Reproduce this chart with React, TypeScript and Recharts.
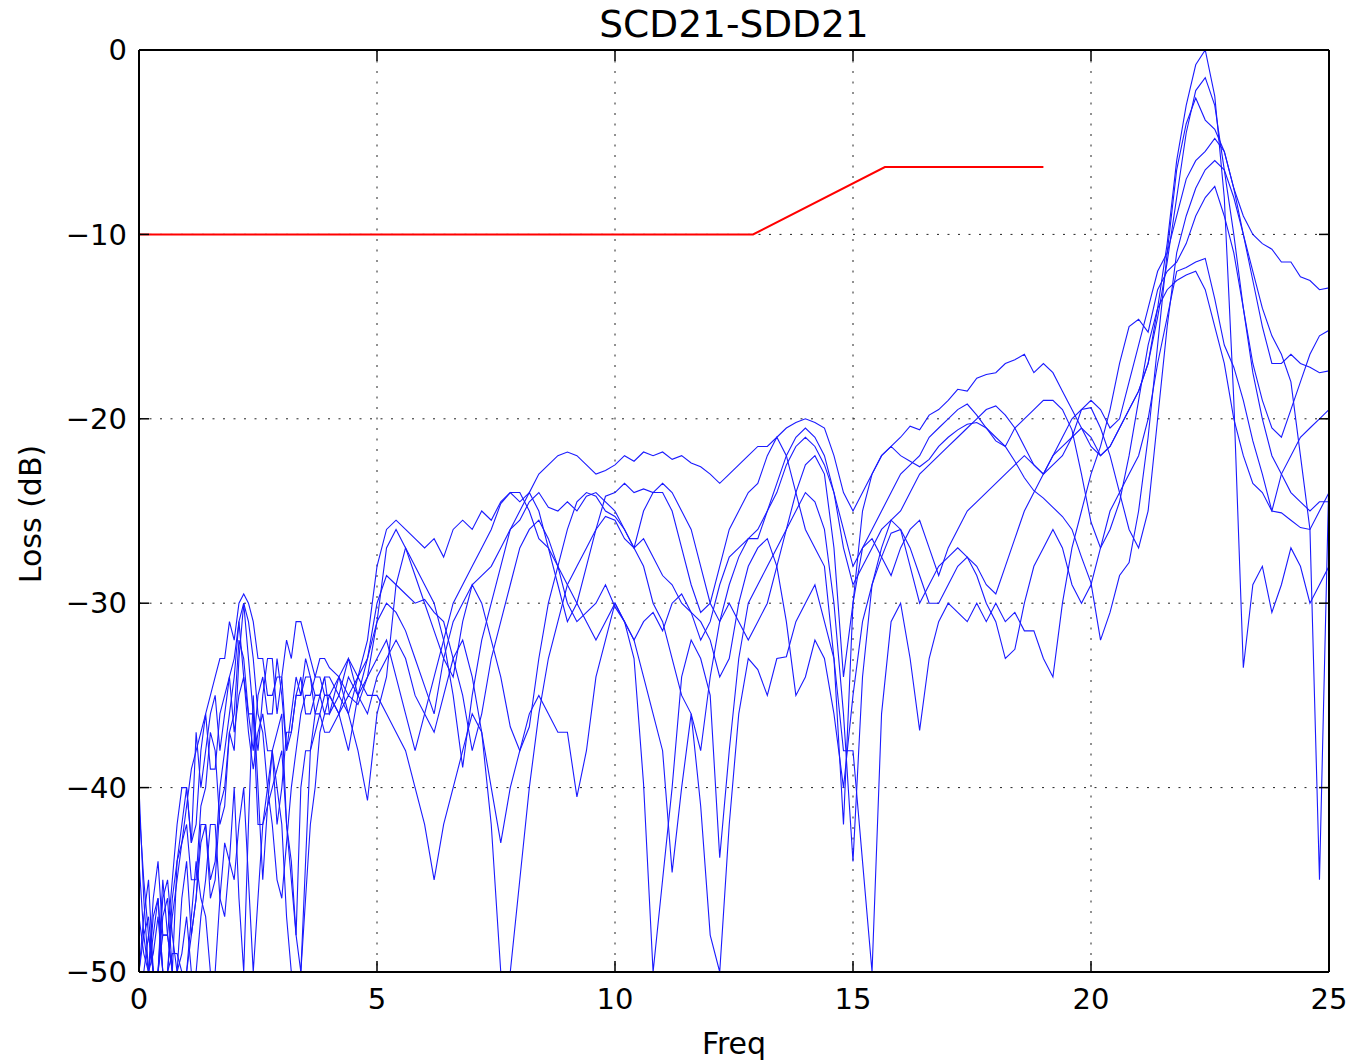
import React from 'react';
import { LineChart, Line, XAxis, YAxis, CartesianGrid, ReferenceLine } from 'recharts';

// frequency grid (GHz): 0..3.9 step 0.1, then 4..25 step 0.2
const FREQ: number[] = [
  ...Array.from({ length: 40 }, (_, i) => i / 10),
  ...Array.from({ length: 106 }, (_, i) => Math.round(40 + i * 2) / 10),
];

const X_TICKS = [0, 5, 10, 15, 20, 25];
const Y_TICKS = [-50, -40, -30, -20, -10, 0];

const LIMIT_F = [0, 12.9, 15.67, 19.0];
const LIMIT_DB = [-10, -10, -6.35, -6.35];

const T1 = [
  -41, -45, -48, -50, -50, -47, -46, -50, -44, -42, -40, -43, -37, -40, -38, -36, -35, -38, -36, -34,
  -33, -31, -34, -36, -36, -38, -35, -33, -33, -36, -34, -38, -36, -34, -35, -33, -34, -36, -35, -34,
  -34, -35, -33, -34, -32, -28, -26, -25.5, -26, -26.5, -27, -26.5, -27.5, -26, -25.5, -26, -25, -25.5, -24.5, -24,
  -24.5, -24, -23, -22.5, -22, -21.8, -22, -22.5, -23, -22.8, -22.5, -22, -22.3, -21.8, -22, -21.8, -22.2, -22, -22.4, -22.6,
  -23, -23.5, -23, -22.5, -22, -21.5, -21.5, -21, -20.5, -20.2, -20, -20.2, -20.5, -22, -24, -25, -24, -23, -22, -21.5,
  -21, -20.4, -20.6, -19.8, -19.5, -19, -18.4, -18.5, -17.8, -17.6, -17.5, -17, -16.8, -16.5, -17.5, -17, -17.5, -18.5, -19.5, -20.5,
  -21.5, -22, -21.5, -20.5, -19.5, -18.5, -17, -14, -10.5, -6, -3, -0.8, 0, -2.5, -8, -19, -33.5, -29, -28, -30.5,
  -29, -27, -28, -30, -29, -28,
];

const T2 = [
  -50, -48, -47, -50, -50, -45, -48, -50, -50, -46, -44, -48, -46, -42, -42, -46, -45, -41, -40, -37,
  -38, -33, -30, -33, -36, -42, -42, -40, -38, -37, -36, -42, -44, -48, -40, -38, -38, -36, -36, -35,
  -35, -36, -34, -35, -33, -30, -28.5, -29, -29.5, -30, -29.8, -30.5, -31, -33, -35, -38, -36, -33, -31, -29,
  -27, -26, -25.5, -26.5, -28, -30, -31, -30.5, -30, -29, -30.2, -31, -32, -31, -30.5, -31.5, -30, -29.5, -30.5, -32,
  -31, -29, -27.5, -27, -26.5, -26, -25, -24, -22.5, -21.5, -21, -21.5, -22.5, -24, -26, -28, -27, -26.5, -27.5, -28.5,
  -27, -26, -25.5, -27, -28.5, -27, -26, -25, -24.5, -24, -23.5, -23, -22.5, -22, -22.5, -23, -22, -21.5, -21, -20.5,
  -21, -22, -21.5, -20.5, -19.5, -18.5, -17, -14.5, -11.5, -8, -4.5, -2.2, -1.5, -3, -6.5, -10, -14, -17, -19, -20.5,
  -21, -19.5, -18, -16.5, -15.5, -15.2,
];

const T3 = [
  -50, -50, -50, -47, -46, -50, -50, -46, -44, -43, -42, -45, -45, -41, -40, -37, -38, -42, -41, -37,
  -36, -32, -33, -36, -38, -35, -34, -36, -36, -33, -35, -38, -37, -35, -34, -36, -36, -35, -35, -34,
  -36, -35, -36, -34, -33, -31, -30, -30.5, -31.5, -33, -34.5, -36, -33, -31, -30, -29, -28.5, -28, -27, -26,
  -25.5, -24.5, -24, -24.8, -25, -24.5, -25, -24.2, -24, -24.5, -25, -26, -27, -25, -24, -24, -25, -27, -29, -30.5,
  -30, -28, -26, -25, -24, -23.5, -22, -21, -22, -24, -26, -27, -28, -33, -42, -30, -25, -23, -22, -21.5,
  -22, -22.3, -22.6, -22.2, -21.5, -21, -20.6, -20.3, -20.2, -20.5, -21.2, -21.5, -22.3, -23.2, -23.9, -24.3, -24.8, -25.3, -26, -27.5,
  -28.9, -32, -30.5, -28.5, -27.8, -25, -21, -16, -11, -6.5, -4, -2.6, -3.8, -4.3, -5.5, -7.5, -9, -10, -10.5, -10.8,
  -11.5, -11.5, -12.3, -12.5, -13, -12.9,
];

const T4 = [
  -47, -49, -50, -46, -44, -48, -48, -45, -42, -40, -40, -43, -42, -38, -36, -39, -39, -36, -35, -34,
  -37, -35, -34, -37, -39, -37, -36, -38, -38, -42, -40, -37, -37, -35, -35, -34, -34, -35, -35, -36,
  -35, -36, -35, -35.5, -34, -31, -27, -26, -27, -28.5, -30, -31.5, -33, -34, -31, -29, -30, -32, -34, -36.7,
  -38, -36.7, -33, -30, -28, -26, -24.5, -24, -24.2, -25, -25.3, -26, -27, -28, -30, -31, -33, -35, -36, -38,
  -34, -31, -29, -27.5, -26.5, -26.5, -25, -23.5, -22, -21, -20.5, -21, -22, -24, -27, -29, -28, -27, -26, -25.5,
  -25, -24, -23, -22.5, -22, -21.5, -21, -20.5, -20, -19.5, -19.3, -19.8, -20.5, -21.5, -22.5, -23, -22.5, -22, -21, -19.5,
  -19, -19.5, -20.5, -20, -18, -16, -14, -12, -11, -9, -7, -6, -5.5, -4.8, -5.5, -7.5, -10, -12.5, -15, -17,
  -17, -16.5, -17, -17.2, -17.5, -17.4,
];

const T5 = [
  -50, -47, -45, -50, -50, -48, -48, -50, -50, -49, -47, -50, -50, -47, -45, -42, -42, -46, -47, -44,
  -40, -46, -50, -42, -35, -40, -45, -41, -38, -40, -42, -47, -50, -50, -50, -44, -38, -37, -36, -37,
  -37, -36, -38, -35, -34, -33, -32, -34, -36, -38, -36, -34, -32, -30, -29, -28, -27, -26, -24.6, -24,
  -24, -25, -26.5, -27, -28, -29, -30, -31, -32, -31, -30, -31, -33, -39.8, -50, -45, -40, -34, -32, -33,
  -35, -43.8, -38, -33, -30, -29, -28, -27, -26, -25, -24, -24.5, -26, -30, -36, -44, -34, -29, -27, -25.5,
  -26, -28, -30, -29, -28, -27.5, -27, -27.5, -28, -29, -29.5, -28, -26.5, -25, -24, -23, -22, -21, -20, -19.5,
  -19.4, -20.5, -22, -24, -26, -27, -25, -20, -15, -11, -9, -7.5, -6.5, -6, -6.5, -8, -10, -12, -14, -15.5,
  -16.5, -18, -22, -26, -45, -23,
];

const T6 = [
  -40, -46, -50, -48, -46, -50, -50, -49, -49, -50, -50, -47, -44, -46, -47, -50, -50, -46, -43, -44,
  -45, -42, -40, -45, -50, -46, -42, -41, -40, -39, -38, -42, -45, -48, -50, -46, -42, -40, -37, -36,
  -36, -34, -35, -34, -35, -35, -36, -37, -38, -40, -42, -45, -42, -40, -38, -36, -37, -40, -43, -40,
  -38, -36, -35, -36, -37, -37, -40.5, -38, -34, -32, -30, -31, -32, -34, -36, -38, -44.6, -40, -36, -41,
  -48, -50, -42, -36, -33, -33.6, -35, -33, -32.9, -31, -30, -29, -31, -33, -38, -38, -44, -50, -36, -31,
  -30, -33, -36.9, -33, -31, -30, -30.5, -31, -30, -31, -30, -31, -30.5, -31.5, -31.5, -33, -34, -30, -27, -25,
  -23, -21.5, -19.5, -17, -15, -14.6, -15.3, -13, -12, -11.5, -10.5, -9, -8, -7.4, -9, -11, -14, -17.5, -20, -22,
  -23, -24, -24.5, -25, -24.5, -24.5,
];

const T7 = [
  -50, -50, -48, -50, -50, -46, -45, -48, -50, -50, -50, -48, -46, -43, -42, -45, -44, -40, -38, -36,
  -34, -31, -30, -31, -33, -36, -37, -40, -42, -45, -46, -43, -40, -38, -36, -35, -35, -34, -33, -33,
  -33.5, -34, -33, -35, -36, -34, -33, -32, -33, -35, -36, -37, -35, -33, -32, -34, -37, -42, -50, -50,
  -45, -40, -36, -33, -31, -29, -28, -27, -26, -25.3, -25.5, -26.5, -27, -26.5, -27.5, -28.5, -29, -30, -30.5, -31,
  -32, -34, -33, -30, -28, -27, -26.5, -28, -31, -35, -34, -32, -33, -36, -40, -35, -31, -29, -27.5, -26.2,
  -26, -27, -28.5, -30, -30, -29, -28, -27.5, -28.5, -30, -31, -33, -32.5, -30, -28, -27, -26, -27, -29, -30,
  -29, -27, -25, -24, -23, -22, -20, -17, -14.5, -12, -11.8, -11.5, -11.3, -13.5, -16, -17.2, -19, -21.2, -23, -25,
  -25.1, -25.5, -25.9, -26, -25, -24,
];

const T8 = [
  -44, -48, -50, -49, -47, -50, -50, -47, -45, -43, -41, -39, -38, -37, -36, -35, -34, -33, -33, -31,
  -32, -30, -29.5, -30, -31, -33, -33, -35, -35, -34, -34, -32, -33, -31, -31, -32, -33, -34, -34, -35,
  -35, -34, -36, -38, -40.7, -36, -34, -29, -27, -28, -29, -30, -32, -35, -38.9, -35, -32, -30, -28, -26,
  -25, -24, -25, -27, -29, -31, -30, -28, -26, -24.2, -24, -23.5, -24, -23.8, -24, -23.5, -24, -25, -26, -28,
  -30, -31, -30, -31, -32, -31, -30, -28, -26, -24, -22.5, -22, -23, -27, -34, -30, -27, -26, -25, -24,
  -23, -22.5, -22, -21, -20.5, -20, -19.5, -19.2, -19.8, -20.5, -21, -21.5, -20.5, -20, -19.5, -19, -19, -19.5, -20.6, -23,
  -25.6, -27, -26, -24.5, -22, -19, -16, -14, -13, -12.5, -12.2, -12, -13, -15, -17, -20, -22, -23.5, -24, -25,
  -23, -22, -21, -20.5, -20, -19.5,
];

const TRACES = [T1, T2, T3, T4, T5, T6, T7, T8];

const traceData = TRACES.map((t) => FREQ.map((f, i) => ({ f, v: t[i] })));
const limitData = LIMIT_F.map((f, i) => ({ f, v: LIMIT_DB[i] }));

const FONT = '"DejaVu Sans", sans-serif';
const fmt = (v: number) => (v < 0 ? '\u2212' + Math.abs(v) : String(v));
const tickStyle = { fontSize: 29, fill: '#000', fontFamily: FONT };
const emptyTick = () => <text />;
const AXIS_LINE = { stroke: '#000', strokeWidth: 2 };
const TICK_LINE = { stroke: '#000', strokeWidth: 1.5 };

export default function App() {
  return (
    <div style={{ position: 'absolute', left: 0, top: 0, width: 1353, height: 1064, background: '#fff' }}>
      <LineChart width={1353} height={1064} margin={{ top: 49, right: 23, bottom: 0, left: 0 }}>
        <CartesianGrid xAxisId="b" yAxisId="l" stroke="#222" strokeDasharray="2 8.5" strokeWidth={1} />
        <XAxis
          xAxisId="b"
          type="number"
          dataKey="f"
          domain={[0, 25]}
          ticks={X_TICKS}
          allowDataOverflow
          height={92}
          tickSize={-11}
          tickMargin={27}
          tick={tickStyle}
          tickFormatter={fmt}
          axisLine={AXIS_LINE}
          tickLine={TICK_LINE}
        />
        <XAxis
          xAxisId="t"
          orientation="top"
          type="number"
          dataKey="f"
          domain={[0, 25]}
          ticks={X_TICKS}
          allowDataOverflow
          height={1}
          tickSize={-11}
          tick={emptyTick}
          axisLine={AXIS_LINE}
          tickLine={TICK_LINE}
        />
        <YAxis
          yAxisId="l"
          type="number"
          domain={[-50, 0]}
          ticks={Y_TICKS}
          allowDataOverflow
          width={139}
          tickSize={-10}
          tickMargin={22}
          tick={tickStyle}
          tickFormatter={fmt}
          axisLine={AXIS_LINE}
          tickLine={TICK_LINE}
        />
        <YAxis
          yAxisId="r"
          orientation="right"
          type="number"
          domain={[-50, 0]}
          ticks={Y_TICKS}
          allowDataOverflow
          width={1}
          tickSize={-10}
          tick={emptyTick}
          axisLine={AXIS_LINE}
          tickLine={TICK_LINE}
        />
        {traceData.map((d, k) => (
          <Line
            key={'t' + k}
            xAxisId="b"
            yAxisId="l"
            data={d}
            dataKey="v"
            type="linear"
            stroke="#1a1aff"
            strokeWidth={1.1}
            dot={false}
            activeDot={false}
            isAnimationActive={false}
          />
        ))}
        <Line
          xAxisId="b"
          yAxisId="l"
          data={limitData}
          dataKey="v"
          type="linear"
          stroke="#ff0000"
          strokeWidth={2}
          dot={false}
          activeDot={false}
          isAnimationActive={false}
        />
        <Line
          xAxisId="t"
          yAxisId="r"
          data={limitData}
          dataKey="v"
          type="linear"
          stroke="none"
          dot={false}
          activeDot={false}
          isAnimationActive={false}
        />
        <ReferenceLine xAxisId="b" yAxisId="l" y={0} stroke="#000" strokeWidth={2} />
        <ReferenceLine xAxisId="b" yAxisId="l" x={25} stroke="#000" strokeWidth={2} />
      </LineChart>
      <div
        style={{
          position: 'absolute',
          left: 139,
          width: 1190,
          top: 3,
          textAlign: 'center',
          fontFamily: FONT,
          fontSize: 37.5,
          lineHeight: '42px',
          color: '#000',
        }}
      >
        SCD21-SDD21
      </div>
      <div
        style={{
          position: 'absolute',
          left: 139,
          width: 1190,
          top: 1026,
          textAlign: 'center',
          fontFamily: FONT,
          fontSize: 30,
          lineHeight: '36px',
          color: '#000',
        }}
      >
        Freq
      </div>
      <div
        style={{
          position: 'absolute',
          left: 31,
          top: 514,
          transform: 'translate(-50%, -50%) rotate(-90deg)',
          fontFamily: FONT,
          fontSize: 30,
          lineHeight: '36px',
          whiteSpace: 'nowrap',
          color: '#000',
        }}
      >
        Loss (dB)
      </div>
    </div>
  );
}
